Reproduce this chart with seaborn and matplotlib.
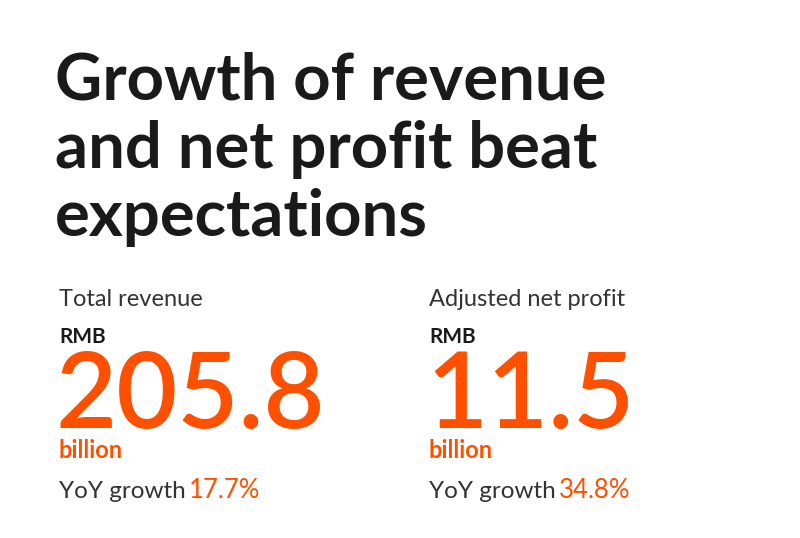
import matplotlib.pyplot as plt
import seaborn as sns

# Datos
titulo = ["Growth of revenue", "and net profit beat", "expectations"]
metricas = ["Total revenue", "Adjusted net profit"]
valores = ["205.8", "11.5"]
crecimiento = ["17.7%", "34.8%"]
moneda = "RMB"
unidad = "billion"

sns.set_theme(style="white")
plt.rcParams['font.family'] = ['Lato', 'DejaVu Sans']

naranja = "#ff5000"
negro = "#1a1a1a"
gris = "#333333"

fig = plt.figure(figsize=(8, 5.38), dpi=100)
ax = fig.add_axes([0, 0, 1, 1])
ax.set_xlim(0, 800)
ax.set_ylim(538, 0)
ax.axis("off")

# Título
for i, linea in enumerate(titulo):
    ax.text(55, 100 + i * 68, linea, fontsize=47, fontweight="bold",
            color=negro, va="baseline", ha="left")

fig.canvas.draw()
renderer = fig.canvas.get_renderer()

# Columnas de métricas
for x0, nombre, val, crec in zip([59, 429], metricas, valores, crecimiento):
    ax.text(x0, 306, nombre, fontsize=17, color=gris, va="baseline")
    ax.text(x0, 343, moneda, fontsize=15, fontweight="bold", color=negro, va="baseline")
    ax.text(x0 - 3, 428, val, fontsize=76, fontweight="semibold", color=naranja, va="baseline")
    ax.text(x0, 458, unidad, fontsize=17, fontweight="bold", color=naranja, va="baseline")
    t = ax.text(x0, 498, "YoY growth", fontsize=17.5, color=gris, va="baseline")
    bb = t.get_window_extent(renderer)
    x_fin = ax.transData.inverted().transform((bb.x1, bb.y0))[0]
    ax.text(x_fin + 3, 498, crec, fontsize=18.5, color=naranja, va="baseline")

plt.savefig("out.png", dpi=100)
